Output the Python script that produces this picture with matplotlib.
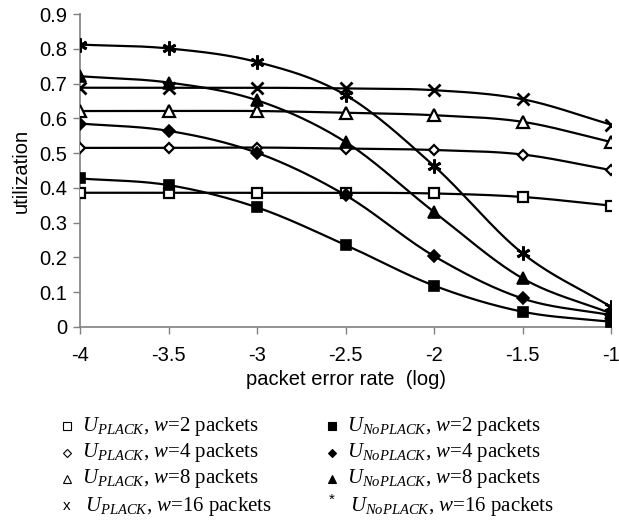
import matplotlib
matplotlib.use("Agg")
import matplotlib.pyplot as plt
from matplotlib.lines import Line2D
import numpy as np

# ======= DATOS ======= #

per_log = [-4, -3.5, -3, -2.5, -2, -1.5, -1]

plack_w2 = [0.386, 0.386, 0.386, 0.386, 0.384, 0.374, 0.349]
plack_w4 = [0.515, 0.515, 0.516, 0.513, 0.509, 0.496, 0.451]
plack_w8 = [0.621, 0.621, 0.621, 0.616, 0.609, 0.590, 0.532]
plack_w16 = [0.688, 0.688, 0.688, 0.686, 0.681, 0.655, 0.582]

noplack_w2 = [0.427, 0.408, 0.344, 0.236, 0.119, 0.044, 0.015]
noplack_w4 = [0.585, 0.564, 0.501, 0.379, 0.204, 0.082, 0.034]
noplack_w8 = [0.721, 0.703, 0.652, 0.532, 0.331, 0.140, 0.039]
noplack_w16 = [0.812, 0.801, 0.762, 0.667, 0.463, 0.212, 0.058]

labels_plack = [
    r"$U_{PLACK}$, $w$=2 packets", r"$U_{PLACK}$, $w$=4 packets",
    r"$U_{PLACK}$, $w$=8 packets", r"$U_{PLACK}$, $w$=16 packets",
]
labels_noplack = [
    r"$U_{NoPLACK}$, $w$=2 packets", r"$U_{NoPLACK}$, $w$=4 packets",
    r"$U_{NoPLACK}$, $w$=8 packets", r"$U_{NoPLACK}$, $w$=16 packets",
]

# ======= ESTILO ======= #

plt.rcParams['font.family'] = ['Liberation Sans', 'DejaVu Sans']
plt.rcParams['mathtext.fontset'] = 'custom'
plt.rcParams['mathtext.rm'] = 'Liberation Serif'
plt.rcParams['mathtext.it'] = 'Liberation Serif:italic'


def smooth(x, y, n=30):
    # curva suavizada tipo Catmull-Rom (como Excel), solo para dibujar
    x = np.asarray(x, float)
    y = np.asarray(y, float)
    px = np.concatenate([[2*x[0]-x[1]], x, [2*x[-1]-x[-2]]])
    py = np.concatenate([[2*y[0]-y[1]], y, [2*y[-1]-y[-2]]])
    xs, ys = [], []
    t = np.linspace(0, 1, n)
    for i in range(1, len(px)-2):
        for p, out in ((px, xs), (py, ys)):
            p0, p1, p2, p3 = p[i-1], p[i], p[i+1], p[i+2]
            out.extend(0.5*((2*p1) + (-p0+p2)*t + (2*p0-5*p1+4*p2-p3)*t**2
                            + (-p0+3*p1-3*p2+p3)*t**3))
    return np.array(xs), np.array(ys)


series = [
    (plack_w2, 's', 'white', 7, 1.6),
    (plack_w4, 'D', 'white', 5.5, 1.6),
    (plack_w8, '^', 'white', 8, 1.6),
    (plack_w16, 'x', 'black', 8, 2.0),
    (noplack_w2, 's', 'black', 7.5, 1.2),
    (noplack_w4, 'D', 'black', 6, 1.2),
    (noplack_w8, '^', 'black', 8.5, 1.2),
    (noplack_w16, (6, 2, 0), 'black', 10, 2.0),
]

W, H = 619, 520
fig = plt.figure(figsize=(W/100, H/100), dpi=100)
ax = fig.add_axes([80/W, 1-327/H, 531/W, 313/H])

for vals, mk, fc, ms, mw in series:
    sx, sy = smooth(per_log, vals)
    ax.plot(sx, sy, color='black', lw=1.6, zorder=2)
    ax.plot(per_log, vals, ls='none', marker=mk, mfc=fc, mec='black',
            mew=mw, ms=ms, zorder=3)

ax.set_xlim(-4, -1)
ax.set_ylim(0, 0.9)
ax.set_xticks(per_log)
ax.set_xticklabels(['-4', '-3.5', '-3', '-2.5', '-2', '-1.5', '-1'])
ax.set_yticks(np.arange(0, 0.91, 0.1))
ax.set_yticklabels(['0', '0.1', '0.2', '0.3', '0.4', '0.5', '0.6', '0.7', '0.8', '0.9'])
ax.tick_params(labelsize=14.5, length=5, width=1, color='#808080', direction='out', pad=4)
ax.tick_params(axis='x', pad=9)
for s in ('top', 'right'):
    ax.spines[s].set_visible(False)
for s in ('left', 'bottom'):
    ax.spines[s].set_color('#808080')
    ax.spines[s].set_linewidth(1.2)
ax.set_xlabel('packet error rate  (log)', fontsize=14.5, labelpad=3)
ax.set_ylabel('utilization', fontsize=14.5, labelpad=6)

# leyenda (a mano, dos columnas)
rows_y = [426, 453, 479, 506]
mk_plack = [('s', 'white'), ('D', 'white'), ('^', 'white'), ('x', None)]
mk_noplack = [('s', 'black'), ('D', 'black'), ('^', 'black'), ('*', None)]

for col, (mks, labs, xm, xt) in enumerate([(mk_plack, labels_plack, 67, 82),
                                          (mk_noplack, labels_noplack, 332, 347)]):
    for r, ((mk, fc), lab) in enumerate(zip(mks, labs)):
        yy = 1 - rows_y[r]/H
        if fc is None:
            # x y * como caracteres pequeños
            dy = 0.0 if mk == 'x' else 0.012
            fig.text(xm/W, yy + dy, mk, fontsize=11, ha='center', va='center')
            shift = 3
        else:
            ms = 4.5 if mk == 'D' else 5.5
            fig.add_artist(Line2D([xm/W], [yy], ls='none', marker=mk, mfc=fc,
                                  mec='black', mew=0.8, ms=ms,
                                  transform=fig.transFigure))
            shift = 0
        fig.text((xt + shift)/W, yy, lab, fontsize=15, va='center', ha='left',
                 family='Liberation Serif')

fig.savefig('out.png', dpi=100)
